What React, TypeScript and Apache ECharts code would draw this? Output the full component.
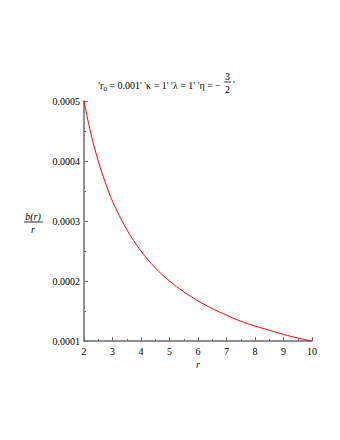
import React, { useEffect, useRef } from "react";
import * as echarts from "echarts";

const rValues = [2, 2.25, 2.5, 2.75, 3, 3.5, 4, 4.5, 5, 5.5, 6, 6.5, 7, 7.5, 8, 8.5, 9, 9.5, 10];
const ratioValues = [
  0.0005, 0.000444, 0.0004, 0.000364, 0.000333, 0.000286, 0.00025, 0.000222, 0.0002, 0.000182,
  0.000167, 0.000154, 0.000143, 0.000133, 0.000125, 0.000118, 0.000111, 0.000105, 0.0001,
];
const yTicks = [0.0001, 0.0002, 0.0003, 0.0004, 0.0005];
const xTicks = [2, 3, 4, 5, 6, 7, 8, 9, 10];

const FONT = "Liberation Serif";
const AXIS_COLOR = "#6e6e6e";

export default function App() {
  const ref = useRef<HTMLDivElement>(null);
  useEffect(() => {
    if (!ref.current) return;
    const chart = echarts.init(ref.current, null, { renderer: "svg" });
    chart.setOption({
      animation: false,
      backgroundColor: "#ffffff",
      textStyle: { fontFamily: FONT },
      grid: { left: 84, right: 28, top: 101, bottom: 99, containLabel: false },
      xAxis: {
        type: "value",
        min: xTicks[0],
        max: xTicks[xTicks.length - 1],
        interval: 1,
        axisLine: { show: true, lineStyle: { color: AXIS_COLOR, width: 1.5 } },
        axisTick: { show: true, inside: true, length: 4, lineStyle: { color: AXIS_COLOR } },
        minorTick: { show: true, splitNumber: 2, length: 2, lineStyle: { color: AXIS_COLOR } },
        splitLine: { show: false },
        axisLabel: { color: "#000", fontFamily: FONT, fontSize: 10, margin: 5 },
      },
      yAxis: {
        type: "value",
        min: yTicks[0],
        max: yTicks[yTicks.length - 1],
        interval: 0.0001,
        axisLine: { show: true, lineStyle: { color: AXIS_COLOR, width: 1.5 } },
        axisTick: { show: true, inside: true, length: 4, lineStyle: { color: AXIS_COLOR } },
        minorTick: { show: true, splitNumber: 2, length: 2, lineStyle: { color: AXIS_COLOR } },
        splitLine: { show: false },
        axisLabel: {
          color: "#000",
          fontFamily: FONT,
          fontSize: 10,
          margin: 4,
          formatter: (v: number) => v.toFixed(4),
        },
      },
      series: [
        {
          type: "line",
          data: rValues.map((r, i) => [r, ratioValues[i]]),
          smooth: 0.4,
          showSymbol: false,
          lineStyle: { color: "#ff0000", width: 1 },
        },
      ],
      graphic: [
        {
          type: "text",
          x: 221,
          y: 85,
          style: {
            text: "{a|'r}{s|0}{a| = 0.001' 'κ = 1' 'λ = 1' 'η = −}",
            align: "right",
            verticalAlign: "middle",
            fill: "#000",
            fontFamily: FONT,
            rich: {
              a: { fontFamily: FONT, fontSize: 10, lineHeight: 14, fill: "#000" },
              s: { fontFamily: FONT, fontSize: 7, lineHeight: 8, verticalAlign: "bottom", fill: "#000" },
            },
          },
        },
        {
          type: "text",
          x: 227.5,
          y: 76,
          style: { text: "3", fontFamily: FONT, fontSize: 10, align: "center", verticalAlign: "middle", fill: "#000" },
        },
        {
          type: "line",
          shape: { x1: 224, y1: 82, x2: 231, y2: 82 },
          style: { stroke: "#000", lineWidth: 0.8 },
        },
        {
          type: "text",
          x: 227.5,
          y: 89,
          style: { text: "2", fontFamily: FONT, fontSize: 10, align: "center", verticalAlign: "middle", fill: "#000" },
        },
        {
          type: "text",
          x: 233,
          y: 84,
          style: { text: "'", fontFamily: FONT, fontSize: 10, align: "left", verticalAlign: "middle", fill: "#000" },
        },
        {
          type: "text",
          x: 33,
          y: 216,
          style: {
            text: "b(r)",
            fontFamily: FONT,
            fontStyle: "italic",
            fontSize: 10,
            align: "center",
            verticalAlign: "middle",
            fill: "#000",
          },
        },
        {
          type: "line",
          shape: { x1: 24, y1: 222, x2: 43, y2: 222 },
          style: { stroke: "#000", lineWidth: 0.8 },
        },
        {
          type: "text",
          x: 33,
          y: 229,
          style: {
            text: "r",
            fontFamily: FONT,
            fontStyle: "italic",
            fontSize: 10,
            align: "center",
            verticalAlign: "middle",
            fill: "#000",
          },
        },
        {
          type: "text",
          x: 198,
          y: 364,
          style: {
            text: "r",
            fontFamily: FONT,
            fontStyle: "italic",
            fontSize: 10,
            align: "center",
            verticalAlign: "middle",
            fill: "#000",
          },
        },
      ],
    });
    return () => chart.dispose();
  }, []);
  return (
    <div
      ref={ref}
      style={{ position: "fixed", left: 0, top: 0, width: 340, height: 440, background: "#fff" }}
    />
  );
}
